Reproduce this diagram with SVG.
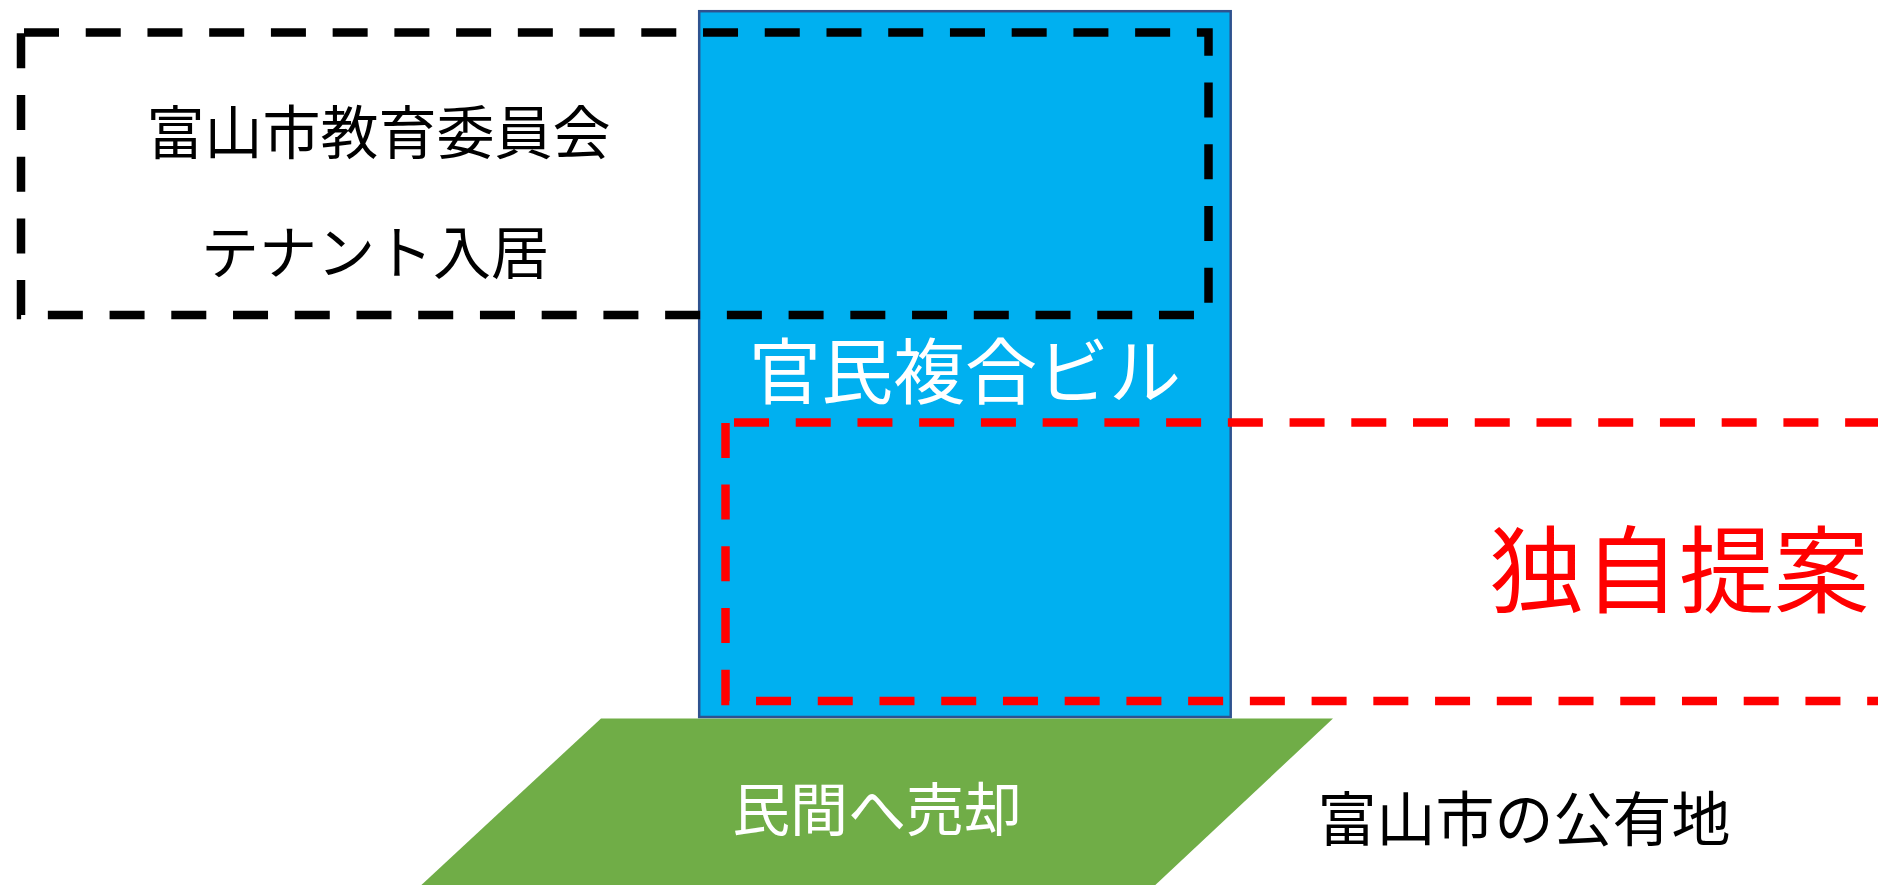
<svg xmlns="http://www.w3.org/2000/svg" width="1878" height="885" viewBox="0 0 1878 885">
<style>
.t{font-family:"Noto Sans CJK JP","Noto Sans CJK SC",sans-serif;text-anchor:middle}
.blk{fill:none;stroke:#000;stroke-width:8.5;stroke-dasharray:35 26.73}
.red{fill:none;stroke:#FF0000;stroke-width:8.5;stroke-dasharray:35 26.73}
</style>
<rect width="1878" height="885" fill="#fff"/>
<g id="land">
<polygon points="601,718.5 1333,718.5 1150,890 416,890" fill="#70AD47"/>
<text class="t" x="877" y="831" font-size="58" fill="#fff">民間へ売却</text>
</g>
<g id="building">
<rect x="699.2" y="11.2" width="531.5" height="705.8" fill="#00B0F0" stroke="#2F528F" stroke-width="2.5"/>
<text class="t" x="965" y="398" font-size="72" fill="#fff">官民複合ビル</text>
</g>
<g id="tenant">
<rect class="blk" x="21" y="32.5" width="1187.5" height="282.5" stroke-dashoffset="58.73"/>
<text class="t" x="378.5" y="154" font-size="58" fill="#000">富山市教育委員会</text>
<text class="t" x="375" y="274" font-size="58" fill="#000">テナント入居</text>
</g>
<g id="proposal">
<path class="red" d="M725.5 422.5 H1890" stroke-dashoffset="53.23"/>
<path class="red" d="M1890 701 H725.5 V422.5" stroke-dashoffset="12.17"/>
<text class="t" x="1679" y="606" font-size="95" fill="#FF0000">独自提案</text>
</g>
<g id="public-land-label">
<text class="t" x="1524" y="841" font-size="59" fill="#000">富山市の公有地</text>
</g>
<g id="connectors"/>
</svg>
